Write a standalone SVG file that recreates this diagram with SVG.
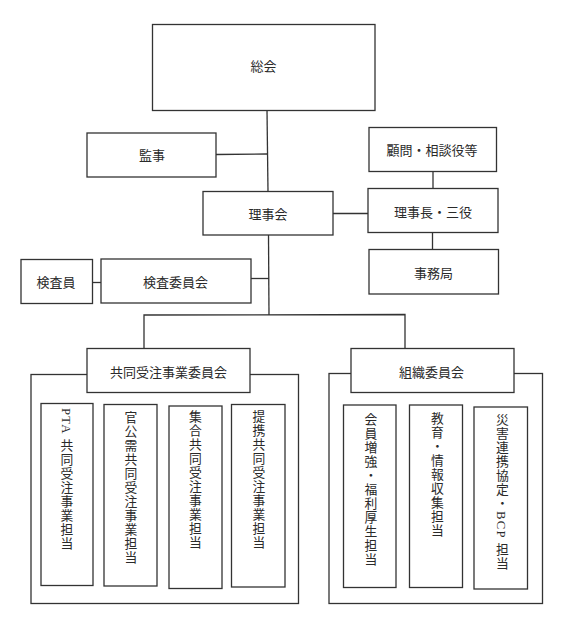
<svg xmlns="http://www.w3.org/2000/svg" width="569" height="617" viewBox="0 0 569 617">
<style>
rect{fill:#fff;stroke:#333;stroke-width:1.3}
.c line,.c polyline{stroke:#333;stroke-width:1.3;fill:none}
text{font-family:"Liberation Serif","Noto Sans CJK JP",serif;font-size:13px;fill:#2a2a2a}
.h{text-anchor:middle;dominant-baseline:central}
.v{writing-mode:vertical-rl;text-anchor:start;font-size:12.8px;letter-spacing:1.2px}
</style>
<rect width="569" height="617" style="fill:#fff;stroke:none"/>
<g class="c" id="connectors">
<line x1="267" y1="110" x2="268" y2="192"/>
<line x1="216" y1="154.5" x2="267.5" y2="154"/>
<line x1="433" y1="172" x2="433" y2="188"/>
<line x1="333" y1="213.5" x2="368" y2="213.5"/>
<line x1="432.5" y1="232" x2="432.5" y2="249"/>
<line x1="268.5" y1="235" x2="269" y2="315"/>
<line x1="251" y1="278.5" x2="269" y2="278.5"/>
<line x1="92" y1="282.5" x2="101" y2="282.5"/>
<polyline points="144,348 144,315 405,314.5 405,348"/>
</g>
<g id="soukai"><rect x="152.5" y="24.5" width="222.5" height="86"/><text class="h" x="263.5" y="66">総会</text></g>
<g id="kanji"><rect x="87" y="133" width="129" height="44"/><text class="h" x="152" y="155">監事</text></g>
<g id="komon"><rect x="369" y="127.5" width="127.5" height="44"/><text class="h" x="432" y="150.5">顧問・相談役等</text></g>
<g id="rijikai"><rect x="203" y="191.5" width="130" height="43.5"/><text class="h" x="268" y="214.5">理事会</text></g>
<g id="rijicho"><rect x="368" y="188.5" width="130" height="44"/><text class="h" x="433" y="212">理事長・三役</text></g>
<g id="jimukyoku"><rect x="369" y="249.5" width="129.5" height="44.5"/><text class="h" x="433.5" y="273">事務局</text></g>
<g id="kensa-iinkai"><rect x="101" y="259" width="150" height="44"/><text class="h" x="175.5" y="282.5">検査委員会</text></g>
<g id="kensain"><rect x="21" y="259.5" width="71.5" height="44"/><text class="h" x="56" y="282.5">検査員</text></g>
<g id="kyodo-container"><rect x="31" y="374.5" width="267.5" height="229"/></g>
<g id="kyodo-iinkai"><rect x="87" y="348.5" width="163" height="44"/><text class="h" x="168.5" y="372">共同受注事業委員会</text></g>
<g id="pta"><rect x="41" y="403.5" width="52" height="182"/><text class="v" x="65.5" y="408">PTA 共同受注事業担当</text></g>
<g id="kankoju"><rect x="104" y="404.5" width="53" height="181.5"/><text class="v" x="129.5" y="410.5">官公需共同受注事業担当</text></g>
<g id="shugo"><rect x="169" y="406" width="53" height="182.5"/><text class="v" x="194" y="410">集合共同受注事業担当</text></g>
<g id="teikei"><rect x="231.5" y="404.5" width="53.5" height="182.5"/><text class="v" x="257.5" y="410">提携共同受注事業担当</text></g>
<g id="soshiki-container"><rect x="329" y="373.5" width="213.5" height="230"/></g>
<g id="soshiki-iinkai"><rect x="351" y="348.5" width="163" height="44"/><text class="h" x="431.5" y="372">組織委員会</text></g>
<g id="kaiin"><rect x="343.5" y="405" width="52.5" height="182.5"/><text class="v" x="369.5" y="413">会員増強・福利厚生担当</text></g>
<g id="kyoiku"><rect x="409.5" y="405" width="53" height="182.5"/><text class="v" x="436" y="411.5">教育・情報収集担当</text></g>
<g id="saigai"><rect x="474" y="407" width="53.5" height="182"/><text class="v" x="501" y="413">災害連携協定・BCP 担当</text></g>
</svg>
